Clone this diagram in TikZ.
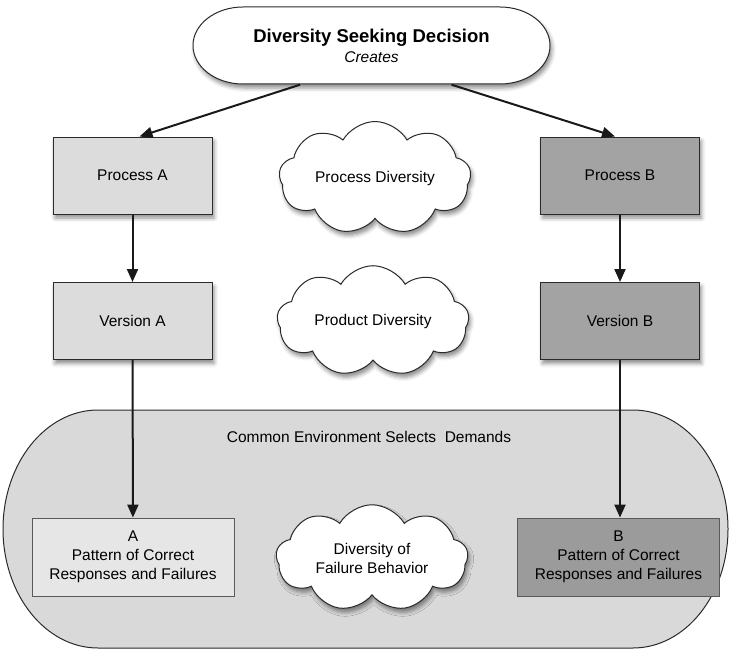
\documentclass[tikz,border=0pt]{standalone}
\usepackage{fontspec}
\setmainfont{Liberation Sans}
\usetikzlibrary{arrows.meta,shapes.symbols,shadows.blur}
\definecolor{lightbox}{HTML}{DCDCDC}
\definecolor{darkbox}{HTML}{A3A3A3}
\definecolor{envfill}{HTML}{D9D9D9}
\definecolor{edge}{HTML}{2A2A2A}
\definecolor{thinedge}{HTML}{5A5A5A}
\begin{document}
\begin{tikzpicture}[x=1pt,y=-1pt,
  softshadow/.style={blur shadow={shadow xshift=2pt,shadow yshift=-4pt,
      shadow blur radius=4pt,shadow opacity=45}},
  box/.style={rectangle,draw=edge,line width=1pt,minimum width=159pt,
      minimum height=77pt,inner sep=0pt,font=\fontsize{15.5}{18}\selectfont,softshadow},
  resultbox/.style={rectangle,draw=thinedge,line width=0.8pt,minimum width=202pt,
      minimum height=78pt,inner sep=0pt,align=center,
      font=\fontsize{15.5}{19}\selectfont},
  idea/.style={cloud,cloud puffs=9,cloud puff arc=120,aspect=2,draw=edge,
      line width=1pt,fill=white,minimum width=192pt,minimum height=92pt,
      inner sep=0pt,align=center,font=\fontsize{15.5}{19}\selectfont,softshadow},
  arr/.style={draw=black!90,line width=2pt,-{Triangle[length=13pt,width=11pt]}},
]
\useasboundingbox (0,0) rectangle (733,650);

% common environment (stadium with elliptic ends)
\path[fill=envfill,draw=edge,line width=1pt]
  (98,410) -- (633,410)
  arc[start angle=-90,end angle=90,x radius=95,y radius=119]
  -- (98,648)
  arc[start angle=90,end angle=270,x radius=95,y radius=119] -- cycle;
\node[font=\fontsize{15.5}{18}\selectfont] (env) at (369,437)
  {Common Environment Selects~~Demands};

% decision at the top
\path[fill=white,draw=edge,line width=1pt,softshadow]
  (243,7) -- (500,7)
  arc[start angle=-90,end angle=90,x radius=50,y radius=38.5]
  -- (243,84)
  arc[start angle=90,end angle=270,x radius=50,y radius=38.5] -- cycle;
\node[minimum width=357pt,minimum height=77pt,inner sep=0pt,align=center]
  (dec) at (371.5,46)
  {\fontsize{18.5}{22}\selectfont\bfseries Diversity Seeking Decision\\[4pt]
   \fontsize{15.5}{18}\selectfont\itshape Creates};

% processes and versions
\node[box,fill=lightbox] (pa) at (132.5,175.5) {Process A};
\node[box,fill=darkbox]  (pb) at (620,175.5)   {Process B};
\node[box,fill=lightbox] (va) at (132.5,321)   {Version A};
\node[box,fill=darkbox]  (vb) at (620,321)     {Version B};

% observed behaviour
\node[resultbox,fill=lightbox!70!white] (ra) at (133,557)
  {A\\Pattern of Correct\\Responses and Failures};
\node[resultbox,fill=darkbox!95!black] (rb) at (618.5,557)
  {B\\Pattern of Correct\\Responses and Failures};

% kinds of diversity
\node[idea] (cproc) at (375,178) {Process Diversity};
\node[idea] (cprod) at (373,321) {Product Diversity};
\node[idea,minimum height=104pt] (cfail) at (372,558)
  {Diversity of\\Failure Behavior};

% connectors
\draw[arr] ([xshift=-71.5pt]dec.south) -- ([xshift=7pt]pa.north);
\draw[arr] ([xshift=80pt]dec.south) -- ([xshift=-5pt]pb.north);
\draw[arr] (pa) -- (va);
\draw[arr] (pb) -- (vb);
\draw[arr] (va) -- (ra);
\draw[arr] (vb.south) -- (vb.south |- rb.north);
\end{tikzpicture}
\end{document}
